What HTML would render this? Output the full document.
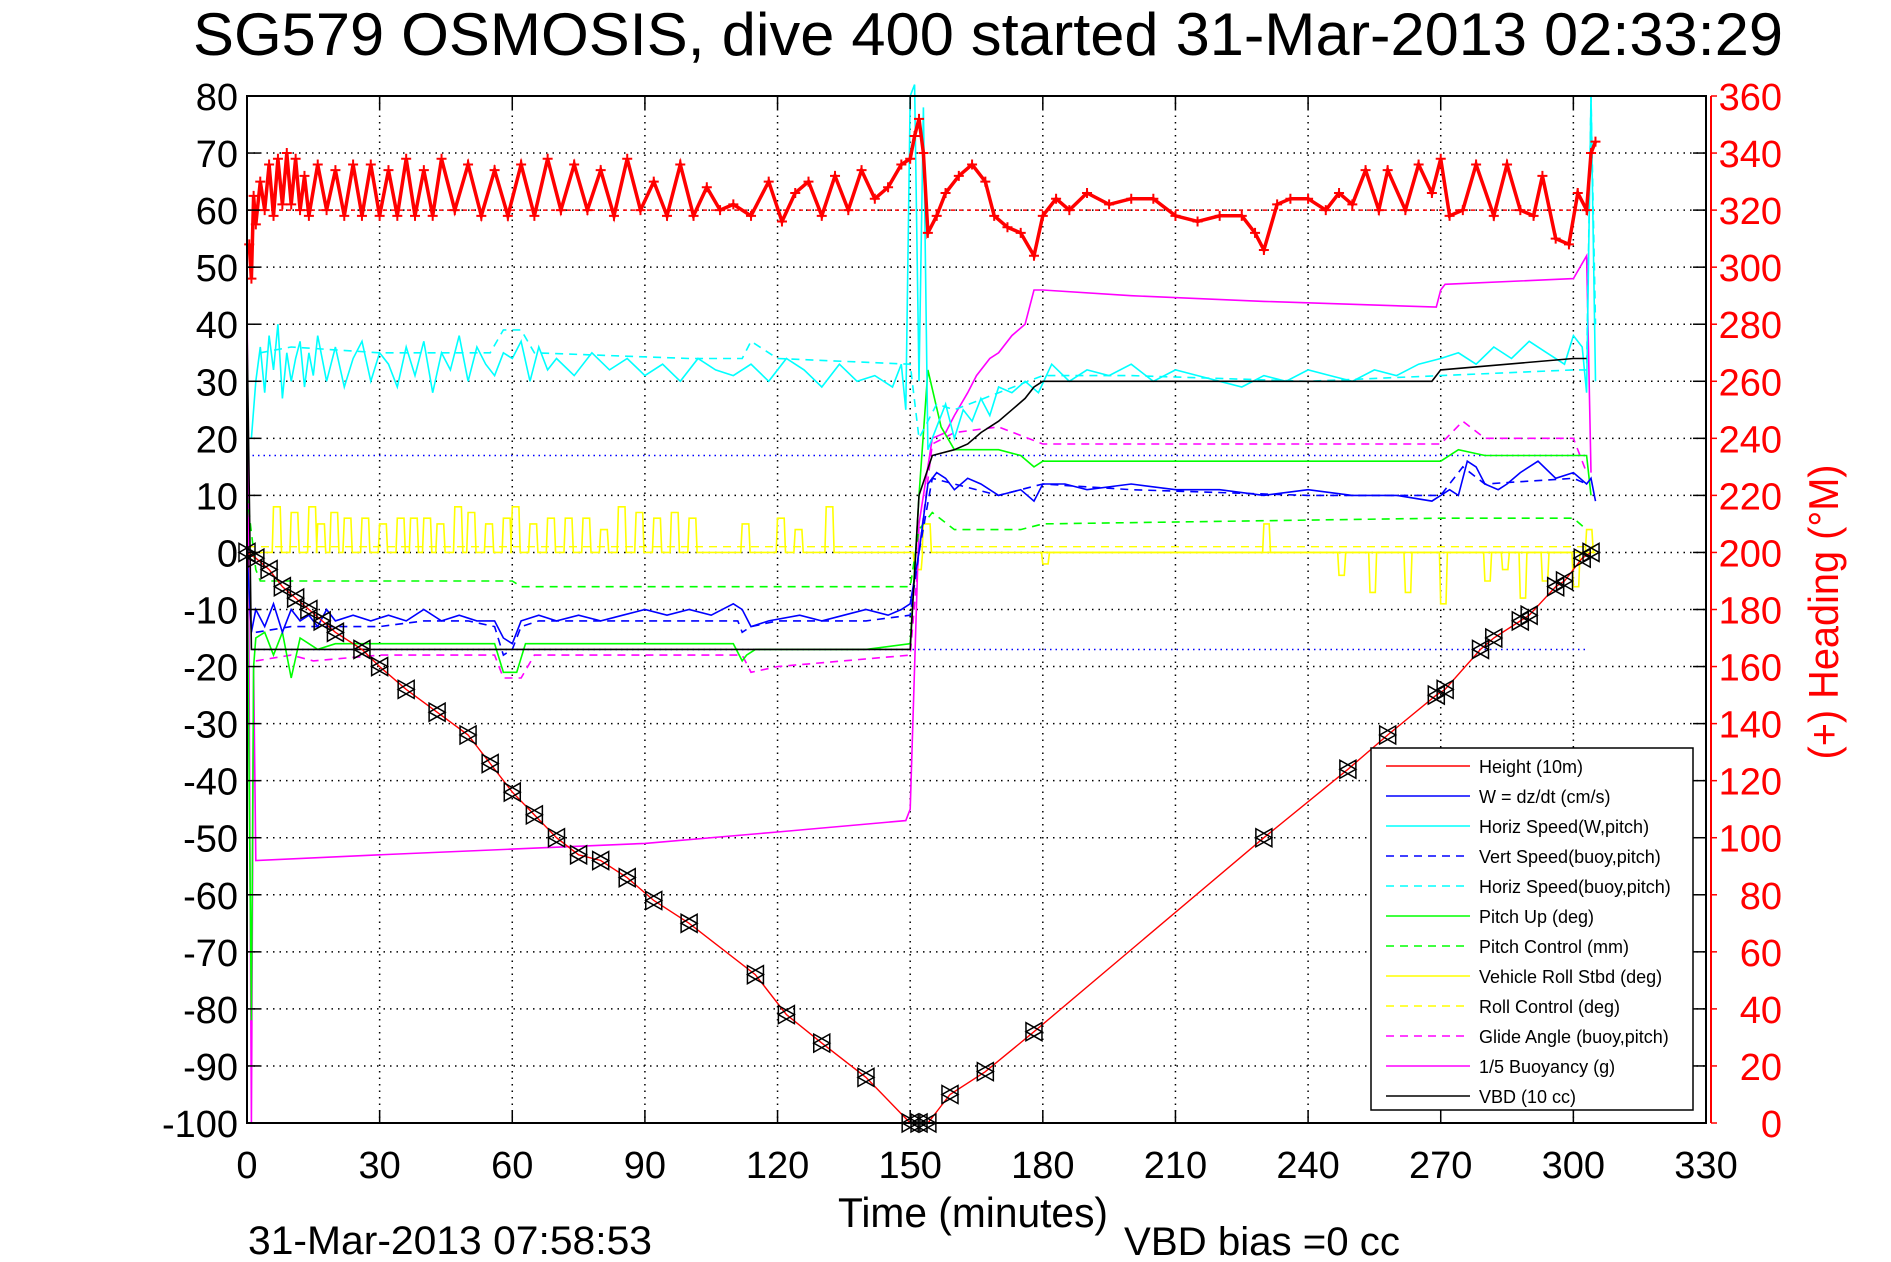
<!DOCTYPE html>
<html><head><meta charset="utf-8"><style>
html,body{margin:0;padding:0;background:#fff;}
svg{display:block;font-family:"Liberation Sans",Arial,sans-serif;}
</style></head><body>
<svg id="chart" width="1891" height="1262" viewBox="0 0 1891 1262" xmlns="http://www.w3.org/2000/svg">
<rect x="0" y="0" width="1891" height="1262" fill="#fff"/>
<text x="988" y="55" font-size="60" text-anchor="middle" textLength="1590" lengthAdjust="spacingAndGlyphs">SG579 OSMOSIS, dive 400 started 31-Mar-2013 02:33:29</text>
<g id="grid"></g>
<g id="series"></g>
<g id="axes"></g>
<text x="838" y="1227" font-size="42" textLength="270" lengthAdjust="spacingAndGlyphs">Time (minutes)</text>
<text x="1124" y="1255" font-size="40" textLength="276" lengthAdjust="spacingAndGlyphs">VBD bias =0 cc</text>
<text x="248" y="1254" font-size="40" textLength="404" lengthAdjust="spacingAndGlyphs">31-Mar-2013 07:58:53</text>
<text transform="translate(1838,612) rotate(-90)" font-size="42" fill="#f00" text-anchor="middle" textLength="295" lengthAdjust="spacingAndGlyphs">(+) Heading (°M)</text>
<g id="legend"></g>
</svg>
<script>
// ---- data ----
const xTicks = [0,30,60,90,120,150,180,210,240,270,300,330];
const yTicks = [80,70,60,50,40,30,20,10,0,-10,-20,-30,-40,-50,-60,-70,-80,-90,-100];
const hTicks = [360,340,320,300,280,260,240,220,200,180,160,140,120,100,80,60,40,20,0];
const heightT = [0,2,5,8,11,14,17,20,26,30,36,43,50,55,60,65,70,75,80,86,92,100,115,122,130,140,150,152,154,159,167,178,230,249,258,269,271,279,282,288,290,296,298,302,304];
const heightV = [0,-1,-3,-6,-8,-10,-12,-14,-17,-20,-24,-28,-32,-37,-42,-46,-50,-53,-54,-57,-61,-65,-74,-81,-86,-92,-100,-100,-100,-95,-91,-84,-50,-38,-32,-25,-24,-17,-15,-12,-11,-6,-5,-1,0];
const headT = [0.5,1,1.5,2,3,4,5,6,7,8,9,10,11,12,13,14,16,18,20,22,24,26,28,30,32,34,36,38,40,42,44,47,50,53,56,59,62,65,68,71,74,77,80,83,86,89,92,95,98,101,104,107,110,114,118,121,124,127,130,133,136,139,142,145,148,150,151,152,153,154,156,158,161,164,167,169,172,175,178,180,183,186,190,195,200,205,210,215,220,225,228,230,233,236,240,244,247,250,253,256,258,262,265,268,270,272,275,278,282,285,288,291,293,296,299,301,303,304,305];
const headV = [308,296,325,315,330,320,336,318,338,322,340,322,338,320,332,318,336,320,334,318,336,318,336,318,334,318,338,318,334,318,338,320,336,318,334,318,336,318,338,320,336,320,334,318,338,320,330,318,336,318,328,320,322,318,330,316,326,330,318,332,320,334,324,328,336,338,346,352,340,312,318,326,332,336,330,318,314,312,304,318,324,320,326,322,324,324,318,316,318,318,312,306,322,324,324,320,326,322,334,320,334,320,336,326,338,318,320,336,318,336,320,318,332,310,308,326,320,340,344];
const wT = [0,1,2,4,6,8,10,12,14,16,18,20,24,28,32,36,40,44,48,52,56,58,60,62,66,70,75,80,85,90,95,100,105,110,112,114,118,125,130,135,140,145,148,150,152,154,156,158,160,163,166,170,175,178,180,185,190,200,210,220,230,240,250,260,268,270,272,274,276,278,280,283,285,288,292,296,300,303,304,305];
const wV = [0,-14,-10,-13,-9,-14,-10,-12,-11,-13,-10,-12,-11,-12,-11,-12,-10,-12,-11,-12,-12,-15,-16,-12,-11,-12,-11,-12,-11,-10,-11,-10,-11,-9,-10,-13,-12,-11,-12,-11,-10,-11,-10,-9,0,12,14,13,11,13,12,10,11,9,12,12,11,12,11,11,10,11,10,10,9,10,11,10,16,15,12,11,12,14,16,13,14,12,13,9];
const vsT = [2,10,20,30,40,50,56,58,60,62,66,80,100,111,112,114,120,130,140,150,152,155,160,170,180,200,240,270,275,280,300,303];
const vsV = [-14,-13,-13,-13,-12,-12,-13,-18,-17,-13,-12,-12,-12,-12,-14,-13,-12,-12,-12,-11,0,13,12,10,12,11,10,10,15,12,13,12];
const hsT = [1,2,3,4,5,6,7,8,9,10,11,12,13,14,15,16,18,20,22,24,26,28,30,32,34,36,38,40,42,44,46,48,50,52,54,56,58,60,62,64,66,68,70,74,78,82,86,90,94,98,102,106,110,114,118,122,126,130,134,138,142,146,148,149,150,151,152,153,154,156,158,160,162,164,166,168,170,173,176,179,182,186,190,195,200,205,210,215,220,225,230,235,240,245,250,255,260,265,270,274,278,282,286,290,294,298,300,302,303,304,305];
const hsV = [20,30,36,28,38,32,40,27,35,30,34,37,29,35,31,38,30,36,29,34,37,30,35,33,29,36,31,37,28,35,32,38,30,36,33,31,35,34,37,30,36,32,34,31,35,32,34,31,33,30,34,32,31,33,30,34,32,29,33,30,31,29,33,25,80,82,30,78,18,22,26,20,25,23,27,24,29,28,30,28,33,30,32,31,33,30,32,31,30,29,31,30,32,31,30,32,31,33,34,35,33,36,34,37,35,33,38,36,28,80,30];
const hsbT = [3,10,30,55,58,62,65,100,112,114,120,150,152,156,160,170,180,200,240,270,300,303,304,305];
const hsbV = [35,36,35,35,39,39,35,34,34,37,34,33,20,26,25,28,31,31,30,31,32,32,80,40];
const pitchT = [0,1,1.5,2,4,6,8,10,12,14,16,20,30,40,50,56,58,61,63,70,90,110,112,113,115,120,140,150,152,154,157,160,170,175,178,180,200,240,270,274,280,300,303,304];
const pitchV = [0,-82,-20,-15,-14,-18,-14,-22,-15,-16,-17,-16,-16,-16,-16,-16,-21,-21,-16,-16,-16,-16,-19,-18,-17,-17,-17,-16,10,32,22,18,18,17,15,16,16,16,16,18,17,17,17,10];
const pitchCT = [0,2,3,60,62,65,112,114,150,152,155,160,175,180,270,300,303];
const pitchCV = [10,-3,-5,-5,-6,-6,-6,-6,-6,4,7,4,4,5,6,6,4];
const rollPulseT = [6,10,14,16,19,22,26,30,34,37,40,43,47,50,54,58,60,64,68,72,76,80,84,88,92,96,100,112,120,124,131,151,153];
const rollPulseV = [8,7,8,5,7,6,6,5,6,6,6,5,8,7,5,6,8,5,6,6,6,4,8,7,6,7,6,5,6,4,8,-3,5];
const rollNegT = [180,230,247,254,262,270,280,284,288,293,300,303];
const rollNegV = [-2,5,-4,-7,-7,-9,-5,-3,-8,-5,-6,4];
const glideT = [2,10,15,30,56,58,62,65,100,112,114,120,150,152,155,160,170,180,200,240,270,275,280,300,303];
const glideV = [-19,-18,-19,-18,-18,-22,-22,-18,-18,-18,-21,-20,-18,0,19,21,22,19,19,19,19,23,20,20,14];
const buoyT = [0,1,1.5,2,30,60,90,120,149,150,152,155,158,160,163,165,168,170,173,176,178,180,200,230,269,270,271,300,303,304];
const buoyV = [48,-100,-20,-54,-53,-52,-51,-49,-47,-45,5,20,21,24,28,31,34,35,38,40,46,46,45,44,43,46,47,48,52,14];
const vbdT = [0,1,2,150,152,155,160,163,166,170,173,176,178,180,268,270,300,303];
const vbdV = [40,-17,-17,-17,10,17,18,19,21,23,25,27,29,30,30,32,34,34];
const legendLabels = ["Height (10m)","W = dz/dt (cm/s)","Horiz Speed(W,pitch)","Vert Speed(buoy,pitch)","Horiz Speed(buoy,pitch)","Pitch Up (deg)","Pitch Control (mm)","Vehicle Roll Stbd (deg)","Roll Control (deg)","Glide Angle (buoy,pitch)","1/5 Buoyancy (g)","VBD (10 cc)"];
const legendColors = ["#f00","#00f","#0ff","#00f","#0ff","#0f0","#0f0","#ff0","#ff0","#f0f","#f0f","#000"];
const legendDashed = [false,false,false,true,true,false,true,false,true,true,false,false];

// ---- scales ----
const L=247,R=1706,T=96,B=1123;
const X=t=>L+t*(R-L)/330;
const Y=v=>B-(v+100)*(B-T)/180;
const YH=h=>B-h*(B-T)/360;
const NS="http://www.w3.org/2000/svg";
function mk(tag,attrs,parent){const e=document.createElementNS(NS,tag);for(const k in attrs)e.setAttribute(k,attrs[k]);parent.appendChild(e);return e;}
const grid=document.getElementById('grid'),ser=document.getElementById('series'),ax=document.getElementById('axes'),leg=document.getElementById('legend');

xTicks.forEach(t=>{
  if(t>0&&t<330){const g=mk('line',{x1:X(t),x2:X(t),y1:T,y2:B,stroke:'#000','stroke-width':1.5,'stroke-dasharray':'1.5 5'},grid);
  
  }
  mk('line',{x1:X(t),x2:X(t),y1:B,y2:B-13,stroke:'#000','stroke-width':1.5},ax);
  mk('line',{x1:X(t),x2:X(t),y1:T,y2:T+13,stroke:'#000','stroke-width':1.5},ax);
  const tx=mk('text',{x:X(t),y:1178,'font-size':38,'text-anchor':'middle'},ax);tx.textContent=t;
  
  
});
yTicks.forEach(v=>{
  if(v>-100&&v<80){const g=mk('line',{x1:L,x2:R,y1:Y(v),y2:Y(v),stroke:'#000','stroke-width':1.5,'stroke-dasharray':'1.5 5'},grid);
  
  }
  mk('line',{x1:L,x2:L+13,y1:Y(v),y2:Y(v),stroke:'#000','stroke-width':1.5},ax);
  const tx=mk('text',{x:238,y:Y(v)+14,'font-size':38,'text-anchor':'end'},ax);tx.textContent=v;
  
  
});
hTicks.forEach(h=>{
  mk('line',{x1:R,x2:R-13,y1:YH(h),y2:YH(h),stroke:'#000','stroke-width':1.5},ax);
  mk('line',{x1:1711,x2:1717,y1:YH(h),y2:YH(h),stroke:'#f00','stroke-width':1.5},ax);
  const tx=mk('text',{x:1782,y:YH(h)+14,'font-size':38,'text-anchor':'end',fill:'#f00'},ax);tx.textContent=h;
  
  
});
const frame=mk('rect',{x:L,y:T,width:R-L,height:B-T,fill:'none',stroke:'#000','stroke-width':2},ax);


const raxis=mk('line',{x1:1711,x2:1711,y1:T,y2:B,stroke:'#f00','stroke-width':2},ax);



function line(ts,vs,color,dash,w,name,ys){
  const yf=ys||Y;
  const p=ts.map((t,i)=>X(t).toFixed(1)+','+yf(vs[i]).toFixed(1)).join(' ');
  const e=mk('polyline',{points:p,fill:'none',stroke:color,'stroke-width':w||1.6},ser);
  if(dash)e.setAttribute('stroke-dasharray',dash);
  
  
  return e;
}
const d1=mk('line',{x1:X(0),x2:X(303),y1:Y(17),y2:Y(17),stroke:'#00f','stroke-width':1.5,'stroke-dasharray':'1.5 4'},ser);


const d2=mk('line',{x1:X(0),x2:X(303),y1:Y(-17),y2:Y(-17),stroke:'#00f','stroke-width':1.5,'stroke-dasharray':'1.5 4'},ser);


const d3=mk('line',{x1:X(0),x2:X(305),y1:YH(320),y2:YH(320),stroke:'#f00','stroke-width':1.5,'stroke-dasharray':'4 4'},ser);



function pulseSeries(pt,pv,w){const ts=[0],vs=[0];pt.forEach((t,i)=>{ts.push(t-0.3,t,t+w,t+w+0.3);vs.push(0,pv[i],pv[i],0);});ts.push(305);vs.push(0);return [ts,vs];}
const r1=pulseSeries(rollPulseT,rollPulseV,1.5);
line(r1[0],r1[1],'#ff0',null,1.6,'roll-series-descent');
const r2=pulseSeries(rollNegT,rollNegV,1.2);
line(r2[0].filter(t=>t>=150),r2[1].filter((v,i)=>r2[0][i]>=150),'#ff0',null,1.6,'roll-series-ascent');
line([0,305],[1,1],'#ff0','8 6',1.4,'roll-control-series');
line(glideT,glideV,'#f0f','8 6',1.6,'glide-angle-series');
line(buoyT,buoyV,'#f0f',null,1.6,'buoyancy-series');
line(pitchCT,pitchCV,'#0f0','8 6',1.6,'pitch-control-series');
line(pitchT,pitchV,'#0f0',null,1.6,'pitch-up-series');
line(hsbT,hsbV,'#0ff','8 6',1.6,'horiz-speed-buoy-series');
line(hsT,hsV,'#0ff',null,1.6,'horiz-speed-w-series');
line(vsT,vsV,'#00f','8 6',1.6,'vert-speed-series');
line(wT,wV,'#00f',null,1.6,'w-series');
line(vbdT,vbdV,'#000',null,1.6,'vbd-series');
line(heightT,heightV,'#f00',null,1.4,'height-series');
heightT.forEach((t,i)=>{
  const x=X(t),y=Y(heightV[i]);
  const m=mk('path',{d:`M${x-8},${y-9} L${x+8},${y} L${x-8},${y+9} Z M${x+8},${y-9} L${x-8},${y} L${x+8},${y+9} Z`,fill:'none',stroke:'#000','stroke-width':1.5},ser);
  
  
});
line(headT,headV,'#f00',null,3.5,'heading-series',YH);
headT.forEach((t,i)=>{
  const x=X(t),y=YH(headV[i]);
  const m=mk('path',{d:`M${x-5},${y} H${x+5} M${x},${y-5} V${y+5}`,stroke:'#f00','stroke-width':2},ser);
  
  
});

const lb=mk('rect',{x:1371,y:748,width:322,height:362,fill:'#fff',stroke:'#000','stroke-width':1.5},leg);


legendLabels.forEach((lab,i)=>{
  const y=766+i*30;
  const l=mk('line',{x1:1386,x2:1470,y1:y,y2:y,stroke:legendColors[i],'stroke-width':1.6},leg);
  if(legendDashed[i])l.setAttribute('stroke-dasharray','8 6');
  
  
  const tx=mk('text',{x:1479,y:y+7,'font-size':18},leg);tx.textContent=lab;
  
  
});
</script>
</body></html>
